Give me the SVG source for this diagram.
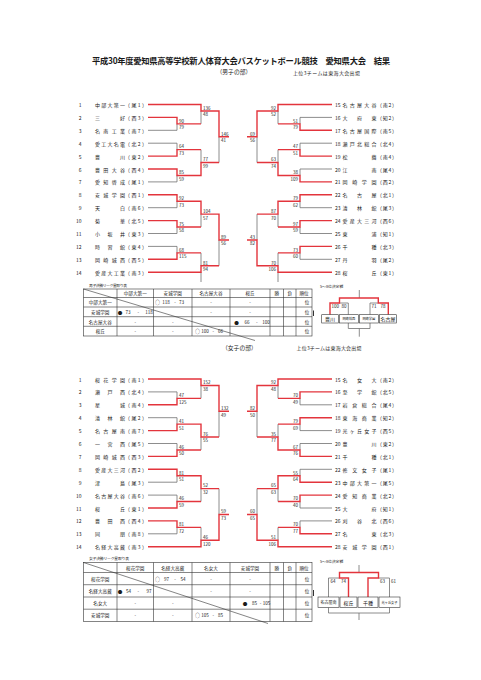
<svg xmlns="http://www.w3.org/2000/svg" width="481" height="680" viewBox="0 0 481 680">
<style>
text{font-family:"Noto Sans CJK JP","Noto Sans CJK SC",sans-serif;fill:#1a1a1a;dominant-baseline:central}
.tt{font-size:8.3px;font-weight:700}
.sub{font-size:5.8px}
.note{font-size:5px}
.n{font-size:5px}
.e{text-anchor:end}
.m{text-anchor:middle}
.sc{font-size:4.5px}
.sr{font-size:4.5px;text-anchor:end}
.tb{font-size:4.6px;text-anchor:middle}
.sm{font-size:3.8px}
.bt{font-size:5px;text-anchor:middle}
.bs{font-size:3.2px;text-anchor:middle}
.r{stroke:#e3343c;stroke-width:1.4;fill:none}
.g{stroke:#707070;stroke-width:0.8;fill:none}
.k{stroke:#333;stroke-width:0.6;fill:none}
.tk{stroke:#333;stroke-width:1;fill:none}
.bx{stroke:#333;stroke-width:0.6;fill:#fff}
</style>
<rect width="481" height="680" fill="#fff"/>

<g id="title">
<text class="tt" x="92" y="60" textLength="298">平成30年度愛知県高等学校新人体育大会バスケットボール競技　愛知県大会　結果</text>
<text class="sub" x="216.5" y="71">（男子の部）</text>
<text class="note" x="293" y="72" textLength="67">上位3チームは東海大会出場</text>
<text class="sub" x="222" y="347">（女子の部）</text>
<text class="note" x="296.5" y="347.5" textLength="65">上位3チームは東海大会出場</text>
</g>

<g id="connectors">
<!-- men left top -->
<path class="g" d="M148,130.3H177V123.85M148,143.2H177V149.65M148,181.9H177V175.45M201,123.85V110.95M201,149.65V162.55M219,162.55V136.75"/>
<path class="r" d="M148,104.5H201V110.95H219V136.75H229M148,117.4H177V123.85H201M148,156.1H177V149.65H201M148,169H177V175.45H201V162.55H219"/>
<!-- men left bottom -->
<path class="g" d="M148,207.7H177V201.25M148,233.5H177V227.05M148,246.4H177V252.85M201,227.05V214.15M201,252.85V265.75M219,265.75V239.95M201,272.2V282"/>
<path class="r" d="M148,194.8H177V201.25H201V214.15H219V239.95H229M148,220.6H177V227.05H201M148,259.3H177V252.85H201M148,272.2H201V265.75H219"/>
<!-- men right top -->
<path class="g" d="M332,117.4H300V123.85M332,143.2H300V149.65M332,169H300V175.45M278,123.85V110.95M278,149.65V162.55M257,162.55V136.75"/>
<path class="r" d="M332,104.5H278V110.95H257V136.75H247M332,130.3H300V123.85H278M332,156.1H300V149.65H278M332,181.9H300V175.45H278V162.55H257"/>
<!-- men right bottom -->
<path class="g" d="M332,207.7H300V201.25M332,233.5H300V227.05M332,259.3H300V252.85M278,227.05V214.15M278,252.85V265.75M257,214.15V239.95M278,272.2V282"/>
<path class="r" d="M332,194.8H300V201.25H278V214.15H257M332,220.6H300V227.05H278M332,246.4H300V252.85H278M332,272.2H278V265.75H257V239.95H247"/>
<!-- women left top -->
<path class="g" d="M148,391.9H177V398.35M148,417.7H177V424.15M148,443.5H177V449.95M201,398.35V385.45M201,437.05V449.95M219,437.05V411.25"/>
<path class="r" d="M148,379H201V385.45H219V411.25H229M148,404.8H177V398.35H201M148,430.6H177V424.15H201V437.05H219M148,456.4H177V449.95H201"/>
<!-- women left bottom -->
<path class="g" d="M148,482.2H177V475.75M148,495.1H177V501.55M148,533.8H177V527.35M201,501.55V488.65M201,527.35V540.25M219,488.65V514.45"/>
<path class="r" d="M148,469.3H177V475.75H201V488.65H219M148,508H177V501.55H201M148,520.9H177V527.35H201M148,546.7H201V540.25H219V514.45H229"/>
<!-- women right top -->
<path class="g" d="M332,404.8H300V398.35M332,430.6H300V424.15M332,443.5H300V449.95M278,398.35V385.45M278,424.15V437.05M257,437.05V411.25"/>
<path class="r" d="M332,379H278V385.45H257V411.25H247M332,391.9H300V398.35H278M332,417.7H300V424.15H278M332,456.4H300V449.95H278V437.05H257"/>
<!-- women right bottom -->
<path class="g" d="M332,469.3H300V475.75M332,508H300V501.55M332,520.9H300V527.35M278,501.55V488.65M278,527.35V540.25M257,488.65V514.45"/>
<path class="r" d="M332,482.2H300V475.75H278V488.65H257M332,495.1H300V501.55H278M332,533.8H300V527.35H278M332,546.7H278V540.25H257V514.45H247"/>
<!-- men 5-8 -->
<path class="g" d="M359.3,290V298M339.5,303H348.3V314.7M370,314.7V303H378.3M348.3,323V328.5H370V323M359.3,328.5V336.7"/>
<path class="r" d="M330,314.7V303H339.5V298H378.3V303H388.3V314.7"/>
<!-- women 5-8 -->
<path class="g" d="M359,565V572.5M328.5,597V578H339.5M378.5,578H389.5V597M328.5,607.5V613H389.5V607.5M359,613V620"/>
<path class="r" d="M348.5,597V578H339.5V572.5H378.5V578H368V597"/>
</g>

<g id="scores">
<text class="sc" x="203" y="107.75">136</text><text class="sc" x="203" y="114.35">48</text>
<text class="sc" x="179" y="120.65">90</text><text class="sc" x="179" y="127.25">79</text>
<text class="sc" x="179" y="146.45">64</text><text class="sc" x="179" y="153.05">73</text>
<text class="sc" x="179" y="172.25">85</text><text class="sc" x="179" y="178.85">59</text>
<text class="sc" x="203" y="159.35">77</text><text class="sc" x="203" y="165.95">99</text>
<text class="sc" x="221" y="133.55">146</text><text class="sc" x="221" y="140.15">41</text>
<text class="sc" x="179" y="198.05">92</text><text class="sc" x="179" y="204.65">73</text>
<text class="sc" x="179" y="223.85">75</text><text class="sc" x="179" y="230.45">58</text>
<text class="sc" x="203" y="210.95">104</text><text class="sc" x="203" y="217.55">57</text>
<text class="sc" x="179" y="249.65">68</text><text class="sc" x="179" y="256.25">115</text>
<text class="sc" x="203" y="262.55">81</text><text class="sc" x="203" y="269.15">94</text>
<text class="sc" x="221" y="236.75">89</text><text class="sc" x="221" y="243.35">56</text>

<text class="sr" x="276" y="107.75">92</text><text class="sr" x="276" y="114.35">52</text>
<text class="sr" x="298" y="120.65">51</text><text class="sr" x="298" y="127.25">79</text>
<text class="sr" x="298" y="146.45">47</text><text class="sr" x="298" y="153.05">51</text>
<text class="sr" x="298" y="172.25">38</text><text class="sr" x="298" y="178.85">109</text>
<text class="sr" x="276" y="159.35">63</text><text class="sr" x="276" y="165.95">74</text>
<text class="sr" x="255" y="133.55">69</text><text class="sr" x="255" y="140.15">56</text>
<text class="sr" x="298" y="198.05">79</text><text class="sr" x="298" y="204.65">62</text>
<text class="sr" x="298" y="223.85">97</text><text class="sr" x="298" y="230.45">59</text>
<text class="sr" x="276" y="210.95">87</text><text class="sr" x="276" y="217.55">70</text>
<text class="sr" x="298" y="249.65">73</text><text class="sr" x="298" y="256.25">60</text>
<text class="sr" x="276" y="262.55">70</text><text class="sr" x="276" y="269.15">106</text>
<text class="sr" x="255" y="236.75">43</text><text class="sr" x="255" y="243.35">82</text>

<text class="sc" x="203" y="382.25">152</text><text class="sc" x="203" y="388.85">38</text>
<text class="sc" x="179" y="395.15">47</text><text class="sc" x="179" y="401.75">125</text>
<text class="sc" x="179" y="420.95">41</text><text class="sc" x="179" y="427.55">51</text>
<text class="sc" x="179" y="446.75">46</text><text class="sc" x="179" y="453.35">50</text>
<text class="sc" x="203" y="433.85">76</text><text class="sc" x="203" y="440.45">55</text>
<text class="sc" x="221" y="408.05">132</text><text class="sc" x="221" y="414.65">49</text>
<text class="sc" x="179" y="472.55">81</text><text class="sc" x="179" y="479.15">51</text>
<text class="sc" x="179" y="498.35">46</text><text class="sc" x="179" y="504.95">59</text>
<text class="sc" x="203" y="485.45">52</text><text class="sc" x="203" y="492.05">32</text>
<text class="sc" x="179" y="524.15">81</text><text class="sc" x="179" y="530.75">72</text>
<text class="sc" x="203" y="537.05">46</text><text class="sc" x="203" y="543.65">120</text>
<text class="sc" x="221" y="511.25">59</text><text class="sc" x="221" y="517.85">73</text>

<text class="sr" x="276" y="382.25">92</text><text class="sr" x="276" y="388.85">48</text>
<text class="sr" x="298" y="395.15">70</text><text class="sr" x="298" y="401.75">49</text>
<text class="sr" x="298" y="420.95">79</text><text class="sr" x="298" y="427.55">69</text>
<text class="sr" x="298" y="446.75">67</text><text class="sr" x="298" y="453.35">76</text>
<text class="sr" x="276" y="433.85">35</text><text class="sr" x="276" y="440.45">77</text>
<text class="sr" x="255" y="408.05">82</text><text class="sr" x="255" y="414.65">50</text>
<text class="sr" x="298" y="472.55">55</text><text class="sr" x="298" y="479.15">64</text>
<text class="sr" x="298" y="498.35">70</text><text class="sr" x="298" y="504.95">40</text>
<text class="sr" x="276" y="485.45">65</text><text class="sr" x="276" y="492.05">63</text>
<text class="sr" x="298" y="524.15">70</text><text class="sr" x="298" y="530.75">77</text>
<text class="sr" x="276" y="537.05">51</text><text class="sr" x="276" y="543.65">106</text>
<text class="sr" x="255" y="511.25">60</text><text class="sr" x="255" y="517.85">65</text>
</g>

<!-- men teams left -->
<g id="m1"><text class="n e" x="81.5" y="104.5">1</text><text class="n" x="95" y="104.5" textLength="30">中部大第一</text><text class="n" x="125" y="104.5" textLength="22">（尾1）</text></g>
<g id="m2"><text class="n e" x="81.5" y="117.4">2</text><text class="n" x="95" y="117.4" textLength="30">三好</text><text class="n" x="125" y="117.4" textLength="22">（西3）</text></g>
<g id="m3"><text class="n e" x="81.5" y="130.3">3</text><text class="n" x="95" y="130.3" textLength="30">名南工業</text><text class="n" x="125" y="130.3" textLength="22">（南7）</text></g>
<g id="m4"><text class="n e" x="81.5" y="143.2">4</text><text class="n" x="95" y="143.2" textLength="30">愛工大名電</text><text class="n" x="125" y="143.2" textLength="22">（北2）</text></g>
<g id="m5"><text class="n e" x="81.5" y="156.1">5</text><text class="n" x="95" y="156.1" textLength="30">豊川</text><text class="n" x="125" y="156.1" textLength="22">（東2）</text></g>
<g id="m6"><text class="n e" x="81.5" y="169">6</text><text class="n" x="95" y="169" textLength="30">豊田大谷</text><text class="n" x="125" y="169" textLength="22">（西4）</text></g>
<g id="m7"><text class="n e" x="81.5" y="181.9">7</text><text class="n" x="95" y="181.9" textLength="30">愛知啓成</text><text class="n" x="125" y="181.9" textLength="22">（尾1）</text></g>
<g id="m8"><text class="n e" x="81.5" y="194.8">8</text><text class="n" x="95" y="194.8" textLength="30">安城学園</text><text class="n" x="125" y="194.8" textLength="22">（西1）</text></g>
<g id="m9"><text class="n e" x="81.5" y="207.7">9</text><text class="n" x="95" y="207.7" textLength="30">天白</text><text class="n" x="125" y="207.7" textLength="22">（南6）</text></g>
<g id="m10"><text class="n e" x="81.5" y="220.6">10</text><text class="n" x="95" y="220.6" textLength="30">菊華</text><text class="n" x="125" y="220.6" textLength="22">（北5）</text></g>
<g id="m11"><text class="n e" x="81.5" y="233.5">11</text><text class="n" x="95" y="233.5" textLength="30">小坂井</text><text class="n" x="125" y="233.5" textLength="22">（東3）</text></g>
<g id="m12"><text class="n e" x="81.5" y="246.4">12</text><text class="n" x="95" y="246.4" textLength="30">時習館</text><text class="n" x="125" y="246.4" textLength="22">（東4）</text></g>
<g id="m13"><text class="n e" x="81.5" y="259.3">13</text><text class="n" x="95" y="259.3" textLength="30">岡崎城西</text><text class="n" x="125" y="259.3" textLength="22">（西5）</text></g>
<g id="m14"><text class="n e" x="81.5" y="272.2">14</text><text class="n" x="95" y="272.2" textLength="30">愛産大工業</text><text class="n" x="125" y="272.2" textLength="22">（南3）</text></g>
<!-- men teams right -->
<g id="m15"><text class="n" x="335" y="104.5">15</text><text class="n" x="342.5" y="104.5" textLength="34">名古屋大谷</text><text class="n" x="377" y="104.5" textLength="20">（南2）</text></g>
<g id="m16"><text class="n" x="335" y="117.4">16</text><text class="n" x="342.5" y="117.4" textLength="34">大府東</text><text class="n" x="377" y="117.4" textLength="20">（知2）</text></g>
<g id="m17"><text class="n" x="335" y="130.3">17</text><text class="n" x="342.5" y="130.3" textLength="34">名古屋国際</text><text class="n" x="377" y="130.3" textLength="20">（南5）</text></g>
<g id="m18"><text class="n" x="335" y="143.2">18</text><text class="n" x="342.5" y="143.2" textLength="34">瀬戸北総合</text><text class="n" x="377" y="143.2" textLength="20">（北4）</text></g>
<g id="m19"><text class="n" x="335" y="156.1">19</text><text class="n" x="342.5" y="156.1" textLength="34">松蔭</text><text class="n" x="377" y="156.1" textLength="20">（南4）</text></g>
<g id="m20"><text class="n" x="335" y="169">20</text><text class="n" x="342.5" y="169" textLength="34">江南</text><text class="n" x="377" y="169" textLength="20">（尾4）</text></g>
<g id="m21"><text class="n" x="335" y="181.9">21</text><text class="n" x="342.5" y="181.9" textLength="34">岡崎学園</text><text class="n" x="377" y="181.9" textLength="20">（西2）</text></g>
<g id="m22"><text class="n" x="335" y="194.8">22</text><text class="n" x="342.5" y="194.8" textLength="34">名古屋</text><text class="n" x="377" y="194.8" textLength="20">（北1）</text></g>
<g id="m23"><text class="n" x="335" y="207.7">23</text><text class="n" x="342.5" y="207.7" textLength="34">清林館</text><text class="n" x="377" y="207.7" textLength="20">（尾3）</text></g>
<g id="m24"><text class="n" x="335" y="220.6">24</text><text class="n" x="342.5" y="220.6" textLength="34">愛産大三河</text><text class="n" x="377" y="220.6" textLength="20">（西6）</text></g>
<g id="m25"><text class="n" x="335" y="233.5">25</text><text class="n" x="342.5" y="233.5" textLength="34">東浦</text><text class="n" x="377" y="233.5" textLength="20">（知1）</text></g>
<g id="m26"><text class="n" x="335" y="246.4">26</text><text class="n" x="342.5" y="246.4" textLength="34">千種</text><text class="n" x="377" y="246.4" textLength="20">（北3）</text></g>
<g id="m27"><text class="n" x="335" y="259.3">27</text><text class="n" x="342.5" y="259.3" textLength="34">丹羽</text><text class="n" x="377" y="259.3" textLength="20">（尾2）</text></g>
<g id="m28"><text class="n" x="335" y="272.2">28</text><text class="n" x="342.5" y="272.2" textLength="34">桜丘</text><text class="n" x="377" y="272.2" textLength="20">（東1）</text></g>

<!-- women teams left -->
<g id="w1"><text class="n e" x="81.5" y="379">1</text><text class="n" x="95" y="379" textLength="30">桜花学園</text><text class="n" x="125" y="379" textLength="22">（南1）</text></g>
<g id="w2"><text class="n e" x="81.5" y="391.9">2</text><text class="n" x="95" y="391.9" textLength="30">瀬戸西</text><text class="n" x="125" y="391.9" textLength="22">（北4）</text></g>
<g id="w3"><text class="n e" x="81.5" y="404.8">3</text><text class="n" x="95" y="404.8" textLength="30">星城</text><text class="n" x="125" y="404.8" textLength="22">（南4）</text></g>
<g id="w4"><text class="n e" x="81.5" y="417.7">4</text><text class="n" x="95" y="417.7" textLength="30">清林館</text><text class="n" x="125" y="417.7" textLength="22">（尾2）</text></g>
<g id="w5"><text class="n e" x="81.5" y="430.6">5</text><text class="n" x="95" y="430.6" textLength="30">名古屋南</text><text class="n" x="125" y="430.6" textLength="22">（南7）</text></g>
<g id="w6"><text class="n e" x="81.5" y="443.5">6</text><text class="n" x="95" y="443.5" textLength="30">一宮西</text><text class="n" x="125" y="443.5" textLength="22">（尾5）</text></g>
<g id="w7"><text class="n e" x="81.5" y="456.4">7</text><text class="n" x="95" y="456.4" textLength="30">岡崎城西</text><text class="n" x="125" y="456.4" textLength="22">（西3）</text></g>
<g id="w8"><text class="n e" x="81.5" y="469.3">8</text><text class="n" x="95" y="469.3" textLength="30">愛産大三河</text><text class="n" x="125" y="469.3" textLength="22">（西2）</text></g>
<g id="w9"><text class="n e" x="81.5" y="482.2">9</text><text class="n" x="95" y="482.2" textLength="30">津島</text><text class="n" x="125" y="482.2" textLength="22">（尾3）</text></g>
<g id="w10"><text class="n e" x="81.5" y="495.1">10</text><text class="n" x="95" y="495.1" textLength="30">名古屋大谷</text><text class="n" x="125" y="495.1" textLength="22">（南6）</text></g>
<g id="w11"><text class="n e" x="81.5" y="508">11</text><text class="n" x="95" y="508" textLength="30">桜丘</text><text class="n" x="125" y="508" textLength="22">（東1）</text></g>
<g id="w12"><text class="n e" x="81.5" y="520.9">12</text><text class="n" x="95" y="520.9" textLength="30">豊田西</text><text class="n" x="125" y="520.9" textLength="22">（西4）</text></g>
<g id="w13"><text class="n e" x="81.5" y="533.8">13</text><text class="n" x="95" y="533.8" textLength="30">同朋</text><text class="n" x="125" y="533.8" textLength="22">（南8）</text></g>
<g id="w14"><text class="n e" x="81.5" y="546.7">14</text><text class="n" x="95" y="546.7" textLength="30">名経大高蔵</text><text class="n" x="125" y="546.7" textLength="22">（南3）</text></g>
<!-- women teams right -->
<g id="w15"><text class="n" x="335" y="379">15</text><text class="n" x="342.5" y="379" textLength="34">名女大</text><text class="n" x="377" y="379" textLength="20">（南2）</text></g>
<g id="w16"><text class="n" x="335" y="391.9">16</text><text class="n" x="342.5" y="391.9" textLength="34">至学館</text><text class="n" x="377" y="391.9" textLength="20">（北5）</text></g>
<g id="w17"><text class="n" x="335" y="404.8">17</text><text class="n" x="342.5" y="404.8" textLength="34">岩倉総合</text><text class="n" x="377" y="404.8" textLength="20">（尾4）</text></g>
<g id="w18"><text class="n" x="335" y="417.7">18</text><text class="n" x="342.5" y="417.7" textLength="34">東海商業</text><text class="n" x="377" y="417.7" textLength="20">（知2）</text></g>
<g id="w19"><text class="n" x="335" y="430.6">19</text><text class="n" x="342.5" y="430.6" textLength="34">光ヶ丘女子</text><text class="n" x="377" y="430.6" textLength="20">（西5）</text></g>
<g id="w20"><text class="n" x="335" y="443.5">20</text><text class="n" x="342.5" y="443.5" textLength="34">豊川</text><text class="n" x="377" y="443.5" textLength="20">（東2）</text></g>
<g id="w21"><text class="n" x="335" y="456.4">21</text><text class="n" x="342.5" y="456.4" textLength="34">千種</text><text class="n" x="377" y="456.4" textLength="20">（北1）</text></g>
<g id="w22"><text class="n" x="335" y="469.3">22</text><text class="n" x="342.5" y="469.3" textLength="34">修文女子</text><text class="n" x="377" y="469.3" textLength="20">（尾1）</text></g>
<g id="w23"><text class="n" x="335" y="482.2">23</text><text class="n" x="342.5" y="482.2" textLength="34">中部大第一</text><text class="n" x="377" y="482.2" textLength="20">（尾5）</text></g>
<g id="w24"><text class="n" x="335" y="495.1">24</text><text class="n" x="342.5" y="495.1" textLength="34">愛知商業</text><text class="n" x="377" y="495.1" textLength="20">（北2）</text></g>
<g id="w25"><text class="n" x="335" y="508">25</text><text class="n" x="342.5" y="508" textLength="34">大府</text><text class="n" x="377" y="508" textLength="20">（知1）</text></g>
<g id="w26"><text class="n" x="335" y="520.9">26</text><text class="n" x="342.5" y="520.9" textLength="34">刈谷北</text><text class="n" x="377" y="520.9" textLength="20">（西6）</text></g>
<g id="w27"><text class="n" x="335" y="533.8">27</text><text class="n" x="342.5" y="533.8" textLength="34">名東</text><text class="n" x="377" y="533.8" textLength="20">（北3）</text></g>
<g id="w28"><text class="n" x="335" y="546.7">28</text><text class="n" x="342.5" y="546.7" textLength="34">安城学園</text><text class="n" x="377" y="546.7" textLength="20">（西1）</text></g>

<!-- men league table -->
<g id="men-league">
<text class="sm" x="89" y="285" textLength="38">男子決勝リーグ星取り表</text>
<rect class="k" x="83.5" y="289" width="228.5" height="47"/>
<path class="k" d="M83.5,297.5H312M83.5,307H312M83.5,316.7H312M83.5,326.3H312M117,289V336M153.5,289V336M192,289V336M230,289V336M270,289V336M283.5,289V336M296,289V336M83.5,289L255,340.5"/>
<path class="tk" d="M313.5,310.5V316"/>
<text class="tb" x="135.25" y="293.25">中部大第一</text><text class="tb" x="172.75" y="293.25">安城学園</text><text class="tb" x="211" y="293.25">名古屋大谷</text><text class="tb" x="250" y="293.25">桜丘</text><text class="tb" x="276.75" y="293.25">勝</text><text class="tb" x="289.75" y="293.25">負</text><text class="tb" x="304" y="293.25">順位</text>
<text class="tb" x="100.25" y="302.25">中部大第一</text><text class="tb" x="100.25" y="311.85">安城学園</text><text class="tb" x="100.25" y="321.5">名古屋大谷</text><text class="tb" x="100.25" y="331.15">桜丘</text>
<text class="tb" x="157.5" y="302.25">○</text><text class="tb" x="166" y="302.25">118</text><text class="tb" x="175" y="302.25">-</text><text class="tb" x="181.5" y="302.25">73</text>
<text class="tb" x="211" y="302.25">-</text><text class="tb" x="250" y="302.25">-</text><text class="tb" x="307" y="302.25">位</text>
<text class="tb" x="120" y="311.85">●</text><text class="tb" x="128" y="311.85">73</text><text class="tb" x="138.3" y="311.85">-</text><text class="tb" x="149" y="311.85">118</text>
<text class="tb" x="211" y="311.85">-</text><text class="tb" x="250" y="311.85">-</text><text class="tb" x="307" y="311.85">位</text>
<text class="tb" x="135.25" y="321.5">-</text><text class="tb" x="172.75" y="321.5">-</text>
<text class="tb" x="236.5" y="321.5">●</text><text class="tb" x="247" y="321.5">66</text><text class="tb" x="256.7" y="321.5">-</text><text class="tb" x="266" y="321.5">100</text><text class="tb" x="307" y="321.5">位</text>
<text class="tb" x="135.25" y="331.15">-</text><text class="tb" x="172.75" y="331.15">-</text>
<text class="tb" x="197.5" y="331.15">○</text><text class="tb" x="205" y="331.15">100</text><text class="tb" x="213.3" y="331.15">-</text><text class="tb" x="220.5" y="331.15">66</text><text class="tb" x="307" y="331.15">位</text>
</g>

<!-- women league table -->
<g id="women-league">
<text class="sm" x="89" y="558.5" textLength="40">女子決勝リーグ星取り表</text>
<rect class="k" x="83.5" y="562.5" width="228.5" height="59"/>
<path class="k" d="M83.5,572.5H312M83.5,584.7H312M83.5,597H312M83.5,609.2H312M117,562.5V621.5M153.5,562.5V621.5M192,562.5V621.5M230,562.5V621.5M270,562.5V621.5M283.5,562.5V621.5M296,562.5V621.5M83.5,562.5L268,623.5"/>
<path class="tk" d="M313.5,590V596"/>
<text class="tb" x="135.25" y="567.5">桜花学園</text><text class="tb" x="172.75" y="567.5">名経大高蔵</text><text class="tb" x="211" y="567.5">名女大</text><text class="tb" x="250" y="567.5">安城学園</text><text class="tb" x="276.75" y="567.5">勝</text><text class="tb" x="289.75" y="567.5">負</text><text class="tb" x="304" y="567.5">順位</text>
<text class="tb" x="100.25" y="578.6">桜花学園</text><text class="tb" x="100.25" y="590.85">名経大高蔵</text><text class="tb" x="100.25" y="603.1">名女大</text><text class="tb" x="100.25" y="615.35">安城学園</text>
<text class="tb" x="157.5" y="578.6">○</text><text class="tb" x="166.5" y="578.6">97</text><text class="tb" x="175" y="578.6">-</text><text class="tb" x="183" y="578.6">54</text>
<text class="tb" x="211" y="578.6">-</text><text class="tb" x="250" y="578.6">-</text><text class="tb" x="307" y="578.6">位</text>
<text class="tb" x="120" y="590.85">●</text><text class="tb" x="128.5" y="590.85">54</text><text class="tb" x="138.3" y="590.85">-</text><text class="tb" x="149" y="590.85">97</text>
<text class="tb" x="211" y="590.85">-</text><text class="tb" x="250" y="590.85">-</text><text class="tb" x="307" y="590.85">位</text>
<text class="tb" x="135.25" y="603.1">-</text><text class="tb" x="172.75" y="603.1">-</text>
<text class="tb" x="245" y="603.1">●</text><text class="tb" x="254.5" y="603.1">85</text><text class="tb" x="260.5" y="603.1">-</text><text class="tb" x="266.5" y="603.1">105</text><text class="tb" x="307" y="603.1">位</text>
<text class="tb" x="135.25" y="615.35">-</text><text class="tb" x="172.75" y="615.35">-</text>
<text class="tb" x="197.5" y="615.35">○</text><text class="tb" x="205" y="615.35">105</text><text class="tb" x="213.3" y="615.35">-</text><text class="tb" x="220.5" y="615.35">85</text><text class="tb" x="307" y="615.35">位</text>
</g>

<!-- men 5-8 -->
<g id="men-5-8">
<text class="sm" x="320" y="286">5～8位決定戦</text>
<text class="sc" x="331.5" y="305.8">100</text><text class="sc" x="341.5" y="305.8">80</text><text class="sc" x="371.5" y="305.8">71</text><text class="sc" x="380.5" y="305.8">78</text>
<g id="m58-1"><rect class="bx" x="321.7" y="314.7" width="16.6" height="8.3"/><text class="bt" x="330" y="318.85">豊川</text></g>
<g id="m58-2"><rect class="bx" x="339.3" y="314.7" width="19" height="8.3"/><text class="bs" x="348.8" y="318.85">岡崎城西</text></g>
<g id="m58-3"><rect class="bx" x="359.3" y="314.7" width="19" height="8.3"/><text class="bs" x="368.8" y="318.85">岡崎学園</text></g>
<g id="m58-4"><rect class="bx" x="379.3" y="314.7" width="17.4" height="8.3"/><text class="bt" x="388" y="318.85">名古屋</text></g>
</g>

<!-- women 5-8 -->
<g id="women-5-8">
<text class="sm" x="320" y="561">5～8位決定戦</text>
<text class="sc" x="330.5" y="581">64</text><text class="sc" x="341" y="581">74</text><text class="sc" x="380" y="581">63</text><text class="sc" x="391" y="581">61</text>
<g id="w58-1"><rect class="bx" x="318" y="597" width="21" height="10.5"/><text class="bs" x="328.5" y="602.25" style="font-size:4px">名古屋南</text></g>
<g id="w58-2"><rect class="bx" x="340" y="597" width="17" height="10.5"/><text class="bt" x="348.5" y="602.25">桜丘</text></g>
<g id="w58-3"><rect class="bx" x="358" y="597" width="20" height="10.5"/><text class="bt" x="368" y="602.25">千種</text></g>
<g id="w58-4"><rect class="bx" x="379" y="597" width="21" height="10.5"/><text class="bs" x="389.5" y="602.25">光ヶ丘女子</text></g>
</g>
</svg>
